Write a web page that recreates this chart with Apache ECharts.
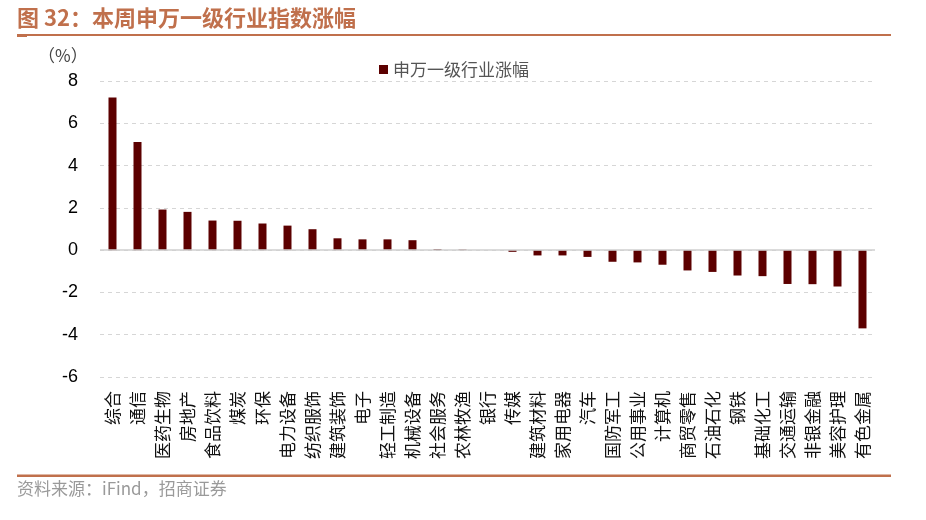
<!DOCTYPE html>
<html>
<head>
<meta charset="utf-8">
<script src="https://cdn.jsdelivr.net/npm/echarts@6/dist/echarts.min.js"></script>
<style>
html,body{margin:0;padding:0;background:#fff;}
#chart{width:926px;height:520px;}
</style>
</head>
<body>
<div id="chart"></div>
<script>
var categories = ['综合','通信','医药生物','房地产','食品饮料','煤炭','环保','电力设备','纺织服饰','建筑装饰','电子','轻工制造','机械设备','社会服务','农林牧渔','银行','传媒','建筑材料','家用电器','汽车','国防军工','公用事业','计算机','商贸零售','石油石化','钢铁','基础化工','交通运输','非银金融','美容护理','有色金属'];
var changes = [7.22,5.12,1.92,1.81,1.40,1.39,1.26,1.16,0.99,0.56,0.51,0.51,0.47,0.05,0.03,0.00,-0.08,-0.25,-0.25,-0.32,-0.55,-0.58,-0.69,-0.96,-1.03,-1.20,-1.23,-1.60,-1.61,-1.72,-3.70];
var seriesName = '申万一级行业涨幅';
var titleText = '图 32：本周申万一级行业指数涨幅';
var sourceText = '资料来源：iFind，招商证券';
var unitText = '（%）';

var chart = echarts.init(document.getElementById('chart'), null, {renderer:'canvas'});
var accent = '#c0704c';
chart.setOption({
  animation: false,
  backgroundColor: '#fff',
  textStyle: {fontFamily: 'Arial, "Liberation Sans", "Noto Sans CJK SC", sans-serif'},
  graphic: [
    {type:'text', left:17, top:7, style:{text:titleText, fill:accent, font:'bold 22px "Noto Sans CJK SC", sans-serif'}},
    {type:'rect', shape:{x:17, y:34, width:874, height:2}, style:{fill:accent}},
    {type:'rect', shape:{x:17, y:34, width:10, height:3}, style:{fill:accent}},
    {type:'rect', shape:{x:17, y:474.5, width:874, height:2.5}, style:{fill:accent}},
    {type:'text', left:17, top:480, style:{text:sourceText, fill:'#9a9a9a', font:'17px "Noto Sans CJK SC", sans-serif'}},
    {type:'text', left:38, top:47, style:{text:unitText, fill:'#444', font:'17px "Noto Sans CJK SC", sans-serif'}}
  ],
  legend: {
    left: 374, top: 56,
    itemWidth: 9, itemHeight: 9, itemGap: 6,
    icon: 'rect',
    data: [seriesName],
    textStyle: {color:'#555', fontSize:17, fontFamily:'"Noto Sans CJK SC", sans-serif'}
  },
  grid: {left:100, right:51, top:81, bottom:143, containLabel:false},
  xAxis: {
    type: 'category',
    data: categories,
    axisLine: {show:false, onZero:false},
    axisTick: {show:false},
    axisLabel: {
      interval: 0, rotate: 90, margin: 14,
      fontSize: 17, color: '#111',
      fontFamily: '"Noto Sans CJK SC", sans-serif'
    }
  },
  yAxis: {
    type: 'value',
    min: -6, max: 8, interval: 2,
    axisLine: {show:false},
    axisTick: {show:false},
    axisLabel: {fontSize:18, color:'#000', margin:22, fontFamily:'Arial, "Liberation Sans", sans-serif'},
    splitLine: {show:true, lineStyle:{type:[4,4], color:'#d6d6d6', width:1}}
  },
  series: [{
    name: seriesName,
    type: 'bar',
    data: changes,
    barWidth: 8,
    itemStyle: {color:'#5c0000'},
    markLine: {
      silent: true, symbol: 'none',
      label: {show:false},
      lineStyle: {type:'solid', color:'#cfcfcf', width:1.5},
      data: [{yAxis:0}]
    }
  }]
});
</script>
</body>
</html>
